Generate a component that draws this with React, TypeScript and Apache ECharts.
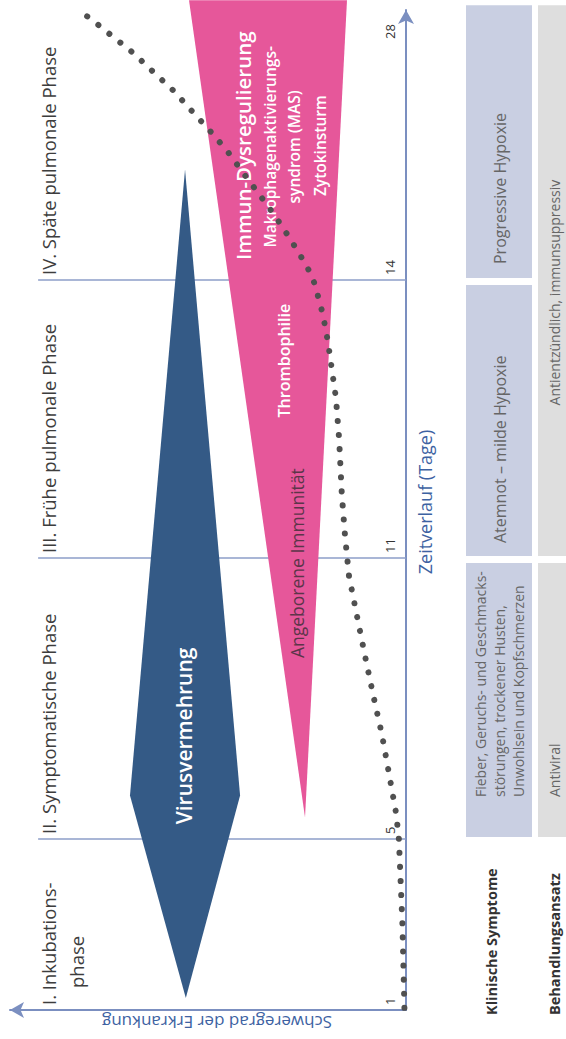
import React, { useEffect, useRef } from "react";
import * as echarts from "echarts";

const FONT = '"Open Sans", "Noto Sans", sans-serif';

// ---- time axis: day ticks and their place along the (non-linear) timeline, 0–100 %
const dayTicks = [1, 5, 11, 14, 28];
const dayTickPositions = [0, 17.1, 45.2, 73.0, 96.6];

// ---- phases
const phaseStartDays = [1, 5, 11, 14];
const phaseTitles = [
  "I. Inkubations-",
  "II. Symptomatische Phase",
  "III. Frühe pulmonale Phase",
  "IV. Späte pulmonale Phase",
];
const phaseBoundaryDays = [5, 11, 14];

// ---- disease severity course (dotted curve)
const severityDays = [
  1.05, 3.0, 5.0, 5.55, 6.4, 7.24, 8.08, 8.93, 9.77, 10.62, 11.24, 11.68, 12.29, 12.73, 13.03,
  13.33, 13.63, 13.95, 14.35, 15.11, 16.46, 17.81, 19.09, 20.38, 21.67, 22.9, 24.08, 25.25,
  26.36, 27.47, 28.47, 29.47, 29.94,
];
const severityValues = [
  0.4, 0.9, 1.8, 2.5, 4.3, 6.1, 8.3, 10.4, 12.4, 14.4, 15.4, 16.2, 16.9, 17.7, 18.7, 19.7, 21.0,
  23.0, 24.0, 25.8, 29.3, 33.1, 37.1, 41.2, 45.2, 49.7, 54.3, 58.8, 63.9, 68.9, 74.2, 79.5, 82.3,
];

// ---- virus replication (blue) and immune response (pink) shapes
const virusDays = [1.28, 5.93, 20.55, 5.93];
const virusValues = [55.6, 69.7, 55.8, 41.9];
const immuneDays = [5.46, 30.6, 30.6];
const immuneValues = [25.5, 54.8, 14.9];

// ---- labels inside the shapes
const shapeLabelTexts = [
  "Virusvermehrung",
  "Angeborene Immunität",
  "Thrombophilie",
  "Immun-Dysregulierung",
  "Makrophagenaktivierungs-\nsyndrom (MAS)",
  "Zytokinsturm",
];
const shapeLabelDays = [7.2, 10.89, 13.13, 21.97, 21.9, 21.97];
const shapeLabelValues = [56.1, 27.5, 30.8, 41.2, 31.3, 21.7];

// ---- table below the chart
const tableRows = ["Klinische Symptome", "Behandlungsansatz"];
const symptomTexts = [
  "Fieber, Geruchs- und Geschmacks-\nstörungen, trockener Husten,\nUnwohlsein und Kopfschmerzen",
  "Atemnot – milde Hypoxie",
  "Progressive Hypoxie",
];
const symptomFrom = [5, 11, 14];
const symptomTo = [11, 14, 30.6];
const treatmentTexts = ["Antiviral", "Antientzündlich, immunsuppressiv"];
const treatmentFrom = [5, 11];
const treatmentTo = [11, 30.6];

// ---------------------------------------------------------------------------
function posOf(day: number): number {
  const n = dayTicks.length;
  let i = 0;
  while (i < n - 2 && day > dayTicks[i + 1]) i++;
  const t = (day - dayTicks[i]) / (dayTicks[i + 1] - dayTicks[i]);
  return dayTickPositions[i] + t * (dayTickPositions[i + 1] - dayTickPositions[i]);
}

const AXIS_COLOR = "#7b8fc0";
const BLUE_TEXT = "#3d62a2";
const TITLE_COLOR = "#3d3d3d";

const shapeLabelStyles = [
  { fill: "#ffffff", fontSize: 21, fontWeight: 600 },
  { fill: "#5b3549", fontSize: 17.5, fontWeight: 400 },
  { fill: "#ffffff", fontSize: 16, fontWeight: 600 },
  { fill: "#ffffff", fontSize: 20.5, fontWeight: 600 },
  { fill: "#ffffff", fontSize: 15.5, fontWeight: 600, lineHeight: 24 },
  { fill: "#ffffff", fontSize: 15.5, fontWeight: 600 },
];

// table layout (landscape pixels)
const ROW_TOP = [466, 538];
const ROW_H = [66, 40];
const ROW_MID = [499.5, 554];
const ROW_FILL = ["#c9cfe2", "#dedede"];

type Cell = { row: number; from: number; to: number; text: string };
const cells: Cell[] = [
  ...symptomTexts.map((t, i) => ({ row: 0, from: symptomFrom[i], to: symptomTo[i], text: t })),
  ...treatmentTexts.map((t, i) => ({ row: 1, from: treatmentFrom[i], to: treatmentTo[i], text: t })),
];
const cellTextLayout = [
  { align: "left", dx: 40, fontSize: 14 },
  { align: "left", dx: 13, fontSize: 16 },
  { align: "left", dx: 14, fontSize: 16 },
  { align: "left", dx: 40, fontSize: 14 },
  { align: "center", dx: -12, fontSize: 14 },
];

function buildOption(): any {
  const polygonSeries = (days: number[], vals: number[], fill: string, z: number) => ({
    type: "custom",
    z,
    silent: true,
    clip: false,
    data: [[0, 0]],
    renderItem: (_p: any, api: any) => ({
      type: "polygon",
      shape: { points: days.map((d, i) => api.coord([posOf(d), vals[i]])) },
      style: { fill },
    }),
  });

  return {
    animation: false,
    backgroundColor: "#ffffff",
    grid: { left: 17, right: 10, top: 10, bottom: 160, containLabel: false },
    xAxis: {
      type: "value",
      min: 0,
      max: 100,
      splitLine: { show: false },
      axisTick: { show: false },
      axisLine: {
        show: true,
        lineStyle: { color: AXIS_COLOR, width: 2 },
        symbol: ["none", "arrow"],
        symbolSize: [12, 14],
      },
      axisLabel: {
        customValues: dayTickPositions,
        formatter: (v: number) => {
          const idx = dayTickPositions.findIndex((p) => Math.abs(p - v) < 1e-6);
          return idx >= 0 ? String(dayTicks[idx]) : "";
        },
        inside: true,
        margin: 10,
        align: "left",
        padding: [0, 0, 0, 5],
        color: "#333",
        fontSize: 13,
        fontFamily: FONT,
      },
      name: "Zeitverlauf (Tage)",
      nameLocation: "middle",
      nameGap: 10,
      nameTextStyle: {
        color: BLUE_TEXT,
        fontSize: 18,
        fontFamily: FONT,
        verticalAlign: "top",
        padding: [0, 0, 0, 16],
      },
    },
    yAxis: {
      type: "value",
      min: 0,
      max: 100,
      splitLine: { show: false },
      axisTick: { show: false },
      axisLabel: { show: false },
      axisLine: {
        show: true,
        lineStyle: { color: AXIS_COLOR, width: 2 },
        symbol: ["none", "arrow"],
        symbolSize: [12, 14],
      },
      name: "Schweregrad der Erkrankung",
      nameLocation: "middle",
      nameRotate: 90,
      nameGap: 4,
      nameTextStyle: {
        color: BLUE_TEXT,
        fontSize: 17,
        fontFamily: FONT,
        padding: [0, 18, 0, 0],
      },
    },
    series: [
      // phase boundary lines
      {
        type: "custom",
        z: 1,
        silent: true,
        data: phaseBoundaryDays.map((d) => [posOf(d), 0]),
        renderItem: (_p: any, api: any) => {
          const a = api.coord([api.value(0), 92.9]);
          const b = api.coord([api.value(0), 0]);
          return {
            type: "line",
            shape: { x1: a[0], y1: a[1], x2: b[0], y2: b[1] },
            style: { stroke: "#8d9ec8", lineWidth: 1.5 },
          };
        },
      },
      polygonSeries(immuneDays, immuneValues, "#e6579a", 2),
      polygonSeries(virusDays, virusValues, "#345a86", 2),
      // labels inside shapes
      {
        type: "custom",
        z: 3,
        silent: true,
        clip: false,
        data: shapeLabelDays.map((d, i) => [posOf(d), shapeLabelValues[i]]),
        renderItem: (p: any, api: any) => {
          const pt = api.coord([api.value(0), api.value(1)]);
          const s = shapeLabelStyles[p.dataIndex];
          return {
            type: "text",
            x: pt[0],
            y: pt[1],
            style: {
              text: shapeLabelTexts[p.dataIndex],
              fill: s.fill,
              fontSize: s.fontSize,
              fontWeight: s.fontWeight,
              fontFamily: FONT,
              lineHeight: (s as any).lineHeight,
              align: "center",
              verticalAlign: "middle",
            },
          };
        },
      },
      // phase titles
      {
        type: "custom",
        z: 3,
        silent: true,
        clip: false,
        data: phaseStartDays.map((d) => [posOf(d), 93.9]),
        renderItem: (p: any, api: any) => {
          const pt = api.coord([api.value(0), api.value(1)]);
          const first = p.dataIndex === 0;
          const base = { fontSize: 18.5, fontFamily: FONT, fill: TITLE_COLOR, lineHeight: 28 };
          return {
            type: "text",
            x: pt[0] + 5,
            y: pt[1],
            style: {
              text: first
                ? "{a|" + phaseTitles[0] + "}\n{b|phase}"
                : phaseTitles[p.dataIndex],
              ...base,
              align: "left",
              verticalAlign: "top",
              rich: first
                ? { a: { ...base }, b: { ...base, padding: [0, 0, 0, 17] } }
                : undefined,
            },
          };
        },
      },
      // table cells
      {
        type: "custom",
        z: 3,
        silent: true,
        clip: false,
        data: cells.map((c) => [posOf(c.from), posOf(c.to), c.row]),
        renderItem: (p: any, api: any) => {
          const c = cells[p.dataIndex];
          const lay = cellTextLayout[p.dataIndex];
          const x0 = api.coord([api.value(0), 0])[0] + 2;
          const x1 = api.coord([api.value(1), 0])[0] - 5;
          const r = c.row;
          const tx = lay.align === "center" ? (x0 + x1) / 2 + lay.dx : x0 + lay.dx;
          return {
            type: "group",
            children: [
              {
                type: "rect",
                shape: { x: x0, y: ROW_TOP[r], width: x1 - x0, height: ROW_H[r] },
                style: { fill: ROW_FILL[r] },
              },
              {
                type: "text",
                x: tx,
                y: ROW_MID[r],
                style: {
                  text: c.text,
                  fill: "#666666",
                  fontSize: lay.fontSize,
                  fontFamily: FONT,
                  lineHeight: 19,
                  align: lay.align,
                  verticalAlign: "middle",
                },
              },
            ],
          };
        },
      },
      // table row titles
      {
        type: "custom",
        z: 3,
        silent: true,
        clip: false,
        data: tableRows.map(() => [posOf(1), 0]),
        renderItem: (p: any, api: any) => {
          const x = api.coord([api.value(0), 0])[0] - 5;
          return {
            type: "text",
            x,
            y: ROW_MID[p.dataIndex] - 8 * (p.dataIndex === 0 ? 1 : 0),
            style: {
              text: tableRows[p.dataIndex],
              fill: "#333333",
              fontSize: 14.5,
              fontWeight: "bold",
              fontFamily: FONT,
              align: "left",
              verticalAlign: "middle",
            },
          };
        },
      },
      // severity course: dotted line
      {
        type: "line",
        z: 5,
        silent: true,
        showSymbol: false,
        clip: false,
        data: severityDays.map((d, i) => [posOf(d), severityValues[i]]),
        lineStyle: { color: "#505050", width: 6, type: [0.1, 14], cap: "round" },
      },
    ],
  };
}

export default function App() {
  const ref = useRef<HTMLDivElement>(null);
  useEffect(() => {
    const chart = echarts.init(ref.current!, null, { renderer: "svg" });
    chart.setOption(buildOption());
    return () => chart.dispose();
  }, []);
  return (
    <div
      style={{
        position: "fixed",
        left: 0,
        top: 0,
        width: 566,
        height: 1039,
        overflow: "hidden",
        background: "#ffffff",
      }}
    >
      <div
        ref={ref}
        style={{
          position: "absolute",
          left: 0,
          top: 0,
          width: 1039,
          height: 566,
          transformOrigin: "0 0",
          transform: "translateY(1039px) rotate(-90deg)",
        }}
      />
    </div>
  );
}
